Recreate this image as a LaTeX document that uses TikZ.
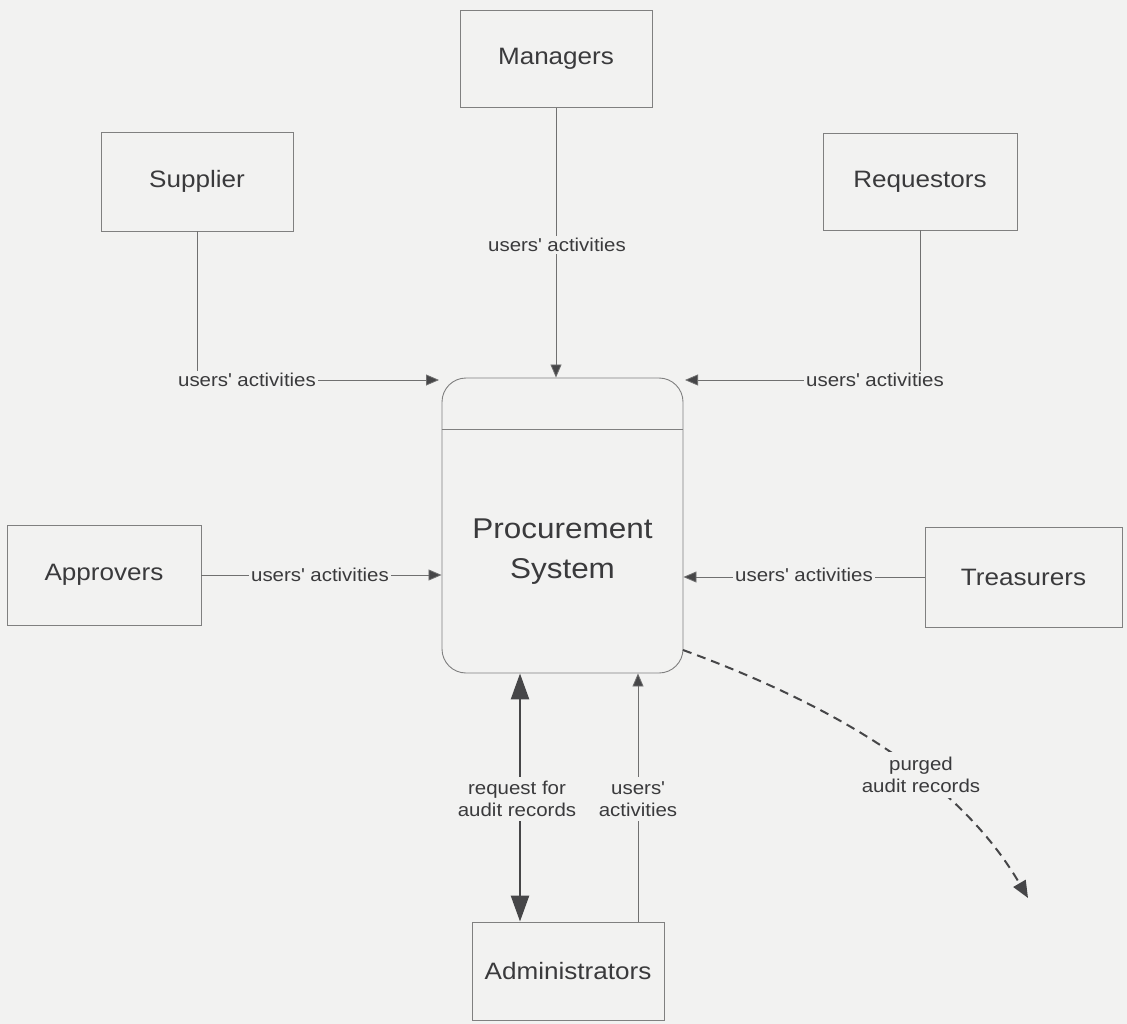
\documentclass[tikz,border=0pt]{standalone}
\usepackage{fontspec}
\setmainfont[FakeStretch=1.1]{Liberation Sans}
\usetikzlibrary{arrows.meta}
\definecolor{bg}{RGB}{242,242,241}
\definecolor{txt}{RGB}{58,58,60}
\definecolor{ln}{RGB}{112,112,112}
\definecolor{bx}{RGB}{128,128,128}
\definecolor{tip}{RGB}{70,70,72}
\newcommand{\ap}{\textquotesingle}
\tikzset{
  ent/.style={draw=bx, line width=0.9pt, rectangle, text=txt, inner sep=0pt,
    font=\fontsize{23.7}{28}\selectfont},
  elab/.style={fill=bg, text=txt, inner sep=2pt, align=center,
    font=\fontsize{18.6}{22.5}\selectfont},
  flow/.style={draw=ln, line width=0.8pt,
    -{Triangle[length=13pt,width=11pt,fill=tip]}},
  bigflow/.style={draw=tip, line width=2.6pt,
    {Triangle[length=26pt,width=18pt,fill=tip]}-{Triangle[length=26pt,width=18pt,fill=tip]}},
  dflow/.style={draw=tip, line width=2pt, dash pattern=on 9pt off 6pt,
    -{Triangle[length=17pt,width=14pt,fill=tip]}}
}
\begin{document}
\begin{tikzpicture}[x=1pt,y=-1pt]
\fill[bg] (0,0) rectangle (1127,1024);
\useasboundingbox (0,0) rectangle (1127,1024);

% entities
\node[ent, minimum width=192pt, minimum height=97pt] (managers) at (556,59) {Managers};
\node[ent, minimum width=192pt, minimum height=99pt] (supplier) at (197,181.5) {Supplier};
\node[ent, minimum width=194pt, minimum height=97pt] (requestors) at (920,181.5) {Requestors};
\node[ent, minimum width=194pt, minimum height=100pt] (approvers) at (104,575) {Approvers};
\node[ent, minimum width=197pt, minimum height=100pt] (treasurers) at (1023.5,577) {Treasurers};
\node[ent, minimum width=192pt, minimum height=98pt] (admin) at (568,971) {Administrators};

% process
\node[draw=bx, line width=0.9pt, rounded corners=24pt, minimum width=241pt,
      minimum height=295pt, inner sep=0pt] (system) at (562.5,525.5) {};
\draw[bx, line width=0.9pt] (system.west |- 0,429) -- (system.east |- 0,429);
\node[text=txt, align=center, inner sep=0pt,
      font=\fontsize{28.6}{40}\selectfont] (systext) at (562.5,552) {Procurement\\System};

% coordinates for arrow ends
\coordinate (supIn) at (439,380);
\coordinate (reqIn) at (685,380);
\coordinate (purgeEnd) at (1028,898);
\coordinate (purgeStart) at (683,650);

% flows
\draw[flow] (supplier.south) |- (supIn);
\node[elab] (l1) at (247,380) {users\ap{} activities};

\draw[flow] (managers.south) -- (managers.south |- system.north);
\node[elab] (l2) at (557,245) {users\ap{} activities};

\draw[flow] (requestors.south) |- (reqIn);
\node[elab] (l3) at (875,380) {users\ap{} activities};

\draw[flow] (approvers.east) -- (approvers.east -| system.west);
\node[elab] (l4) at (320,575) {users\ap{} activities};

\draw[flow] (treasurers.west) -- (treasurers.west -| system.east);
\node[elab] (l5) at (804,575) {users\ap{} activities};

\draw[bigflow] (system.south -| 520,0) -- (admin.north -| 520,0);
\node[elab, inner sep=4pt] (l6) at (517,799) {request for\\audit records};

\draw[flow] (admin.north -| 638,0) -- (system.south -| 638,0);
\node[elab, inner sep=4pt] (l7) at (638,799) {users\ap\\activities};

\draw[dflow] (purgeStart) .. controls (833,705) and (958,778) .. (purgeEnd);
\node[elab, inner sep=5pt] (l8) at (921,775) {purged\\audit records};
\end{tikzpicture}
\end{document}
